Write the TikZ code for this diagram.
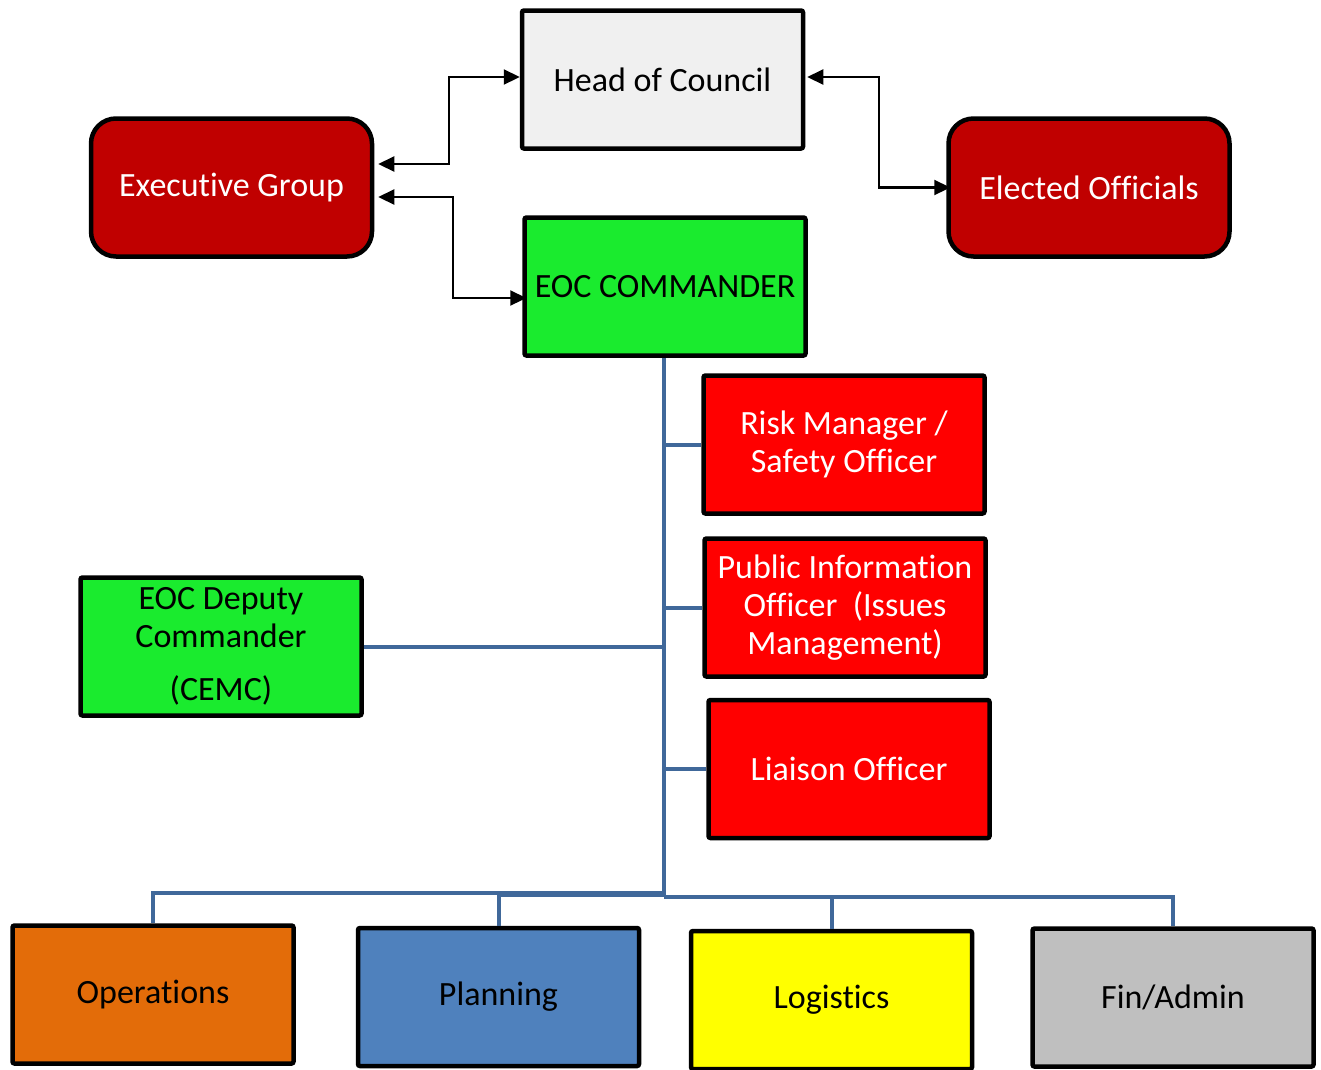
\documentclass[tikz,border=0pt]{standalone}
\usepackage{fontspec}
\setmainfont{Carlito}[Ligatures=NoCommon, RawFeature=-liga, RawFeature=-clig, RawFeature=-calt, RawFeature=-dlig]
\usetikzlibrary{arrows.meta,calc}
\definecolor{headfill}{RGB}{240,240,240}
\definecolor{darkred}{RGB}{192,0,0}
\definecolor{eocgreen}{RGB}{26,235,46}
\definecolor{brightred}{RGB}{255,0,0}
\definecolor{opsorange}{RGB}{227,108,9}
\definecolor{planblue}{RGB}{79,129,189}
\definecolor{logyellow}{RGB}{255,255,0}
\definecolor{fingray}{RGB}{191,191,191}
\definecolor{linkblue}{RGB}{64,104,154}
\tikzset{
  box/.style={draw=black, line width=4.5pt, minimum width=281pt, minimum height=138pt,
    rounded corners=2pt, inner sep=2pt, align=center, font=\fontsize{34}{38}\selectfont},
  roundbox/.style={box, rounded corners=25pt, fill=darkred, text=white},
  biarrow/.style={draw=black, line width=2.2pt, {Triangle[length=16pt,width=15pt]}-{Triangle[length=16pt,width=15pt]}},
  link/.style={draw=linkblue, line width=4pt}
}
\begin{document}
\begin{tikzpicture}[x=1pt,y=-1pt]
\useasboundingbox (0,0) rectangle (1321,1069);
\fill[white] (0,0) rectangle (1321,1069);

\node[box, fill=headfill] (head) at (662.5,79.5) {Head of Council};
\node[roundbox] (exg) at (231.5,187.5) {Executive Group};
\node[roundbox] (elo) at (1089,187.5) {Elected Officials};
\node[box, fill=eocgreen] (eoc) at (665,286.5) {EOC COMMANDER};
\node[box, fill=brightred, text=white] (risk) at (844,444.5) {Risk Manager /\\Safety Officer};
\node[box, fill=brightred, text=white] (pio) at (845,607.5) {Public Information\\Officer\ \ (Issues\\Management)};
\node[box, fill=brightred, text=white] (liai) at (849,769) {Liaison Officer};
\node[box, fill=eocgreen] (dep) at (221,646.5) {EOC Deputy\\Commander\\[15pt](CEMC)};
\node[box, fill=opsorange] (ops) at (153,994.5) {Operations};
\node[box, fill=planblue] (plan) at (498.5,997) {Planning};
\node[box, fill=logyellow] (logi) at (831.5,1000) {Logistics};
\node[box, fill=fingray] (fin) at (1173,997.5) {Fin/Admin};

% arrows
\draw[biarrow] ($(exg.east)+(4,-23.5)$) -- ++(71,0) |- ($(head.west)+(0,-2.5)$);
\draw[biarrow] ($(exg.east)+(4,9.5)$) -- ++(75,0) |- ($(eoc.west)+(4,11.5)$);
\draw[biarrow] ($(head.east)+(2,-2.5)$) -- ++(72,0) |- ($(elo.west)+(4,0)$);

% blue connectors
\coordinate (hub) at (664,895);
\coordinate (hubr) at (664,897);
\draw[link] (eoc.south -| hub) -- (hubr);
\draw[link] (risk.west) -- (risk.west -| hub);
\draw[link] (pio.west) -- (pio.west -| hub);
\draw[link] (liai.west) -- (liai.west -| hub);
\draw[link] (dep.east) -- (dep.east -| hub);
\draw[link] ($(hub)+(0,-2)$) -| (ops.north);
\draw[link] (hub) -| (plan.north);
\draw[link] (hubr) -| (logi.north);
\draw[link] (hubr) -| (fin.north);
\end{tikzpicture}
\end{document}
